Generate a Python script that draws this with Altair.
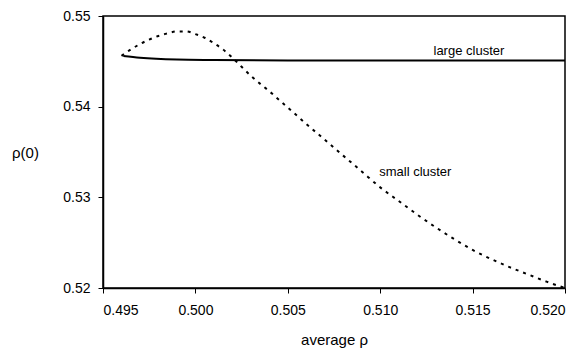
import altair as alt
import pandas as pd

# small cluster (dotted)
small_x = [0.4960, 0.4965, 0.4970, 0.4975, 0.4980, 0.4985, 0.4990, 0.4995, 0.5000, 0.5005,
           0.5010, 0.5015, 0.5020, 0.5025, 0.5030, 0.5040, 0.5050, 0.5060, 0.5070, 0.5080,
           0.5090, 0.5100, 0.5110, 0.5120, 0.5130, 0.5140, 0.5150, 0.5160, 0.5170, 0.5180,
           0.5190, 0.5200]
small_y = [0.5456, 0.5463, 0.5469, 0.5474, 0.5478, 0.5481, 0.5483, 0.5483, 0.5480, 0.5476,
           0.5470, 0.5463, 0.5454, 0.5444, 0.5434, 0.5417, 0.5399, 0.5381, 0.53635, 0.5346,
           0.53285, 0.5311, 0.5296, 0.5281, 0.5267, 0.5254, 0.5242, 0.5232, 0.5223, 0.5215,
           0.5207, 0.5200]

# large cluster (solid)
large_x = [0.4961, 0.4970, 0.4990, 0.5010, 0.5050, 0.5100, 0.5150, 0.5200]
large_y = [0.5456, 0.5454, 0.5452, 0.54515, 0.5451, 0.5451, 0.5451, 0.5451]

labels = ["large cluster", "small cluster"]
label_x = [0.51480, 0.51190]
label_y = [0.54609, 0.53283]

small = pd.DataFrame({"x": small_x, "y": small_y})
large = pd.DataFrame({"x": large_x, "y": large_y})
lab = pd.DataFrame({"x": label_x, "y": label_y, "t": labels})

xs = alt.Scale(domain=[0.495, 0.520], nice=False, zero=False)
ys = alt.Scale(domain=[0.52, 0.55], nice=False, zero=False)

xax = alt.Axis(values=[0.495, 0.500, 0.505, 0.510, 0.515, 0.520], format=".3f",
               title="average ρ", grid=False, tickSize=5, labelPadding=10,
               titlePadding=15)
yax = alt.Axis(values=[0.52, 0.53, 0.54, 0.55], format=".2f", title="ρ(0)",
               grid=False, tickSize=5, labelPadding=8, titleAngle=0,
               titleAlign="center", titleBaseline="middle", titleX=-78, titleY=136)

base_x = alt.X("x:Q", scale=xs, axis=xax)
base_y = alt.Y("y:Q", scale=ys, axis=yax)

l_small = alt.Chart(small).mark_line(color="black", strokeWidth=2, strokeDash=[3, 5],
                                     interpolate="monotone").encode(x=base_x, y=base_y)
l_large = alt.Chart(large).mark_line(color="black", strokeWidth=2,
                                     interpolate="monotone").encode(x="x:Q", y="y:Q")
t = alt.Chart(lab).mark_text(font="Liberation Sans", fontSize=13, color="black").encode(
    x="x:Q", y="y:Q", text="t:N")

chart = alt.layer(l_small, l_large, t).properties(
    width=462, height=272,
    autosize=alt.AutoSizeParams(type="none"),
    padding={"left": 95, "top": 8, "right": 11, "bottom": 60},
).configure_view(stroke="black", strokeWidth=1.5).configure_axis(
    domainColor="black", domainWidth=1.5, tickColor="black", labelColor="black",
    titleColor="black", labelFont="Liberation Sans", titleFont="Liberation Sans",
    labelFontSize=14, titleFontSize=15, titleFontWeight="normal"
)

chart.save("out.html", embed_options={"renderer": "svg", "actions": False})
